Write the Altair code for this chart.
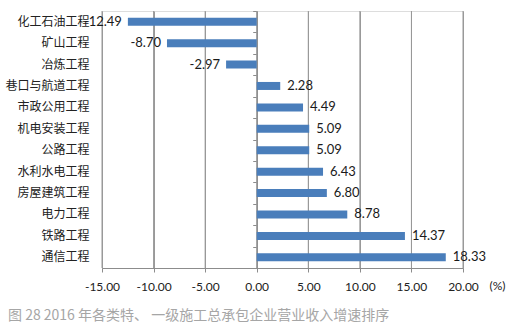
import altair as alt
import pandas as pd

categories = ["化工石油工程", "矿山工程", "冶炼工程", "巷口与航道工程", "市政公用工程",
              "机电安装工程", "公路工程", "水利水电工程", "房屋建筑工程", "电力工程",
              "铁路工程", "通信工程"]
values = [-12.49, -8.70, -2.97, 2.28, 4.49, 5.09, 5.09, 6.43, 6.80, 8.78, 14.37, 18.33]
x_ticks = [-15, -10, -5, 0, 5, 10, 15, 20]
caption = "图 28 2016 年各类特、 一级施工总承包企业营业收入增速排序"

df = pd.DataFrame({"cat": categories, "val": values})
grid_df = pd.DataFrame({"t": [float(t) for t in x_ticks]})

W, H = 361, 257
CJK = "Noto Sans CJK SC"
NUM = "Lato"
GRID = "#999999"
BAR = "#4a7ebb"

yscale = alt.Scale(domain=categories, paddingInner=0, paddingOuter=0)
xscale = alt.Scale(domain=[-15, 20], nice=False, zero=False)

xaxis = alt.Axis(values=x_ticks, labelExpr="replace(format(datum.value, '.2f'), '\u2212', '-')",
                 labelOverlap=False, labelAlign="center",
                 grid=True, gridColor=GRID, gridOpacity=1, gridWidth=1,
                 domainColor="#8c8c8c", tickColor="#8c8c8c",
                 tickSize=4, labelPadding=9, labelFont=NUM, labelFontSize=12,
                 labelColor="#222222", title="(%)", titleFont=NUM,
                 titleFontSize=12, titleFontWeight="normal", titleColor="#222222",
                 titleX=395, titleY=17, titleAlign="center",
                 titleBaseline="middle")

grid = alt.Chart(grid_df).mark_rule(color=GRID, strokeWidth=1).encode(
    x=alt.X("t:Q", scale=xscale, axis=xaxis),
    y=alt.value(0),
    y2=alt.value(H),
)

base = alt.Chart(df).transform_calculate(
    lbl="replace(format(datum.val, '.2f'), '\u2212', '-')"
)

bars = base.mark_bar(size=8, color=BAR).encode(
    x=alt.X("val:Q", scale=xscale, axis=xaxis),
    y=alt.Y("cat:N", scale=yscale, sort=categories,
            axis=alt.Axis(orient="left", domain=False, ticks=False, labelPadding=13,
                          labelFont=CJK, labelFontSize=12, labelColor="#222222",
                          title=None, grid=False)),
)

zero_axis = base.mark_point(opacity=0).encode(
    x=alt.X("val:Q", scale=xscale, axis=xaxis),
    y=alt.Y("cat:N", scale=yscale, sort=categories,
            axis=alt.Axis(orient="left", offset=-(W * 15 / 35), labels=False, ticks=True,
                          tickBand="extent", tickSize=4, tickColor="#8c8c8c",
                          domain=True, domainColor="#8c8c8c", title=None, grid=False)),
)

pos_labels = base.transform_filter("datum.val >= 0").mark_text(
    align="left", baseline="middle", dx=7, font=NUM, fontSize=13, color="#1a1a1a"
).encode(
    x=alt.X("val:Q", scale=xscale, axis=xaxis),
    y=alt.Y("cat:N", scale=yscale, sort=categories, axis=None),
    text="lbl:N",
)

neg_labels = base.transform_filter("datum.val < 0").mark_text(
    align="right", baseline="middle", dx=-6, font=NUM, fontSize=13, color="#1a1a1a"
).encode(
    x=alt.X("val:Q", scale=xscale, axis=xaxis),
    y=alt.Y("cat:N", scale=yscale, sort=categories, axis=None),
    text="lbl:N",
)

chart = alt.layer(grid, bars, zero_axis, pos_labels, neg_labels).resolve_axis(
    y="independent"
).properties(
    width=W, height=H,
    autosize=alt.AutoSizeParams(type="none"),
    padding={"left": 102, "top": 11, "right": 56, "bottom": 64},
    title=alt.TitleParams(caption, orient="bottom", anchor="start", frame="group",
                          dx=-94, offset=17, font=CJK, fontSize=14,
                          fontWeight="normal", color="#a6a6a6"),
).configure_axis(
    gridColor=GRID, gridOpacity=1
).configure_view(stroke=None).configure(background="white")

chart.save("out.html", embed_options={"renderer": "svg", "actions": False})
